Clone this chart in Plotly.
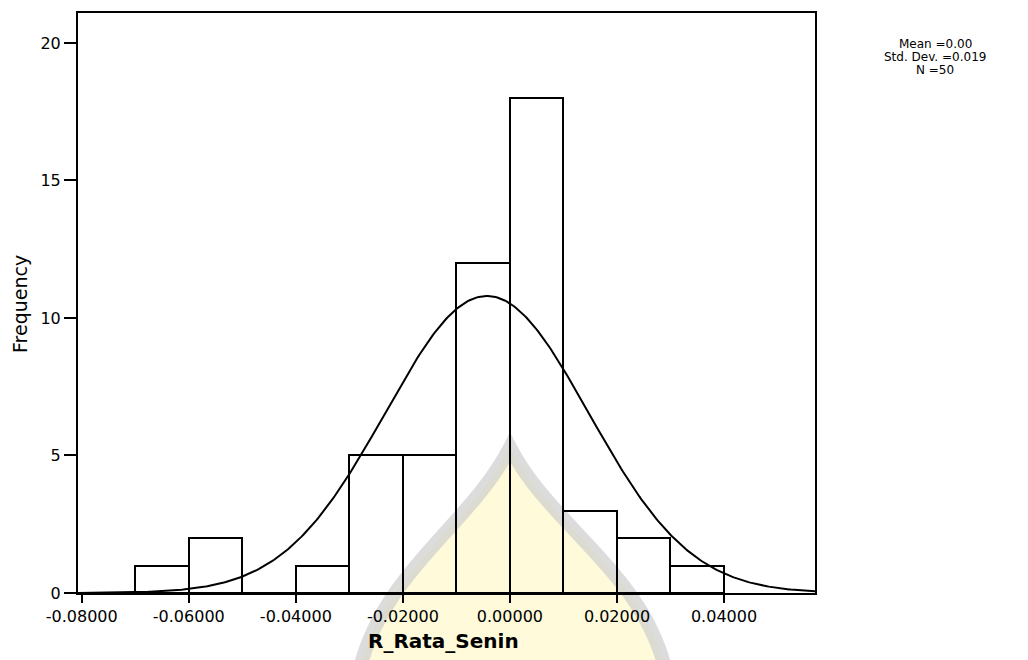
import numpy as np
import plotly.graph_objects as go

# ---- data ----
bin_start = [-0.07, -0.06, -0.05, -0.04, -0.03, -0.02, -0.01, 0.00, 0.01, 0.02, 0.03]
counts = [1, 2, 0, 1, 5, 5, 12, 18, 3, 2, 1]
bin_width = 0.01

x_tick_vals = [-0.08, -0.06, -0.04, -0.02, 0.00, 0.02, 0.04]
x_tick_text = ["-0.08000", "-0.06000", "-0.04000", "-0.02000", "0.00000", "0.02000", "0.04000"]
y_tick_vals = [0, 5, 10, 15, 20]

curve_mean = -0.0043
curve_sd = 0.019
curve_peak = 10.8

stats_lines = ["Mean =0.00", "Std. Dev. =0.019", "N =50"]

# ---- layout geometry (target screen pixels; page body has an 8px offset) ----
OFF = 8
W, H = 1028, 660
L, R, T, B = 78 - OFF, 815 - OFF, 11 - OFF, 593 - OFF
x_range = [-0.0807, 0.0570]
y_range = [0, 21.09]

def px(xp):
    return (xp - OFF - L) / (R - L)

def py(yp):
    return (B - (yp - OFF)) / (B - T)

FONT = "DejaVu Sans, Arial, sans-serif"

fig = go.Figure()

centers = [s + bin_width / 2 for s in bin_start]
fig.add_trace(go.Bar(
    x=centers, y=counts, width=[bin_width] * len(counts),
    marker=dict(color="rgba(0,0,0,0)", line=dict(color="black", width=2)),
    showlegend=False, hoverinfo="x+y",
))

xc = np.linspace(x_range[0], x_range[1], 400)
yc = curve_peak * np.exp(-0.5 * ((xc - curve_mean) / curve_sd) ** 2)
fig.add_trace(go.Scatter(
    x=xc, y=yc, mode="lines", line=dict(color="black", width=2),
    showlegend=False, hoverinfo="skip",
))

# faint watermark (decoration)
def pt(xp, yp):
    return f"{px(xp):.4f},{py(yp):.4f}"

dome = (f"M {pt(360, 668)} C {pt(385, 570)} {pt(470, 525)} {pt(510, 447)} "
        f"C {pt(550, 525)} {pt(640, 570)} {pt(665, 668)} Z")
fig.add_shape(type="path", path=dome, xref="paper", yref="paper", layer="below",
              fillcolor="rgba(255,250,205,0.75)",
              line=dict(color="rgba(205,205,205,0.7)", width=14))

annotations = [
    dict(text="<b>R_Rata_Senin</b>", x=px(443), y=py(641), xref="paper", yref="paper",
         showarrow=False, font=dict(family=FONT, size=20, color="black"),
         xanchor="center", yanchor="middle"),
    dict(text="Frequency", x=px(20), y=py(303), xref="paper", yref="paper",
         showarrow=False, textangle=-90, font=dict(family=FONT, size=19, color="black"),
         xanchor="center", yanchor="middle"),
]
for i, line in enumerate(stats_lines):
    annotations.append(dict(text=line, x=px(935), y=py(42 + 13 * i), xref="paper", yref="paper",
                            showarrow=False, font=dict(family=FONT, size=12, color="black"),
                            xanchor="center", yanchor="middle"))

fig.update_layout(
    width=W, height=H,
    margin=dict(l=L, r=W - R, t=T, b=H - B, pad=0),
    paper_bgcolor="white", plot_bgcolor="rgba(0,0,0,0)",
    bargap=0,
    annotations=annotations,
    xaxis=dict(range=x_range, tickvals=x_tick_vals, ticktext=x_tick_text,
               ticks="outside", ticklen=8, tickwidth=2, tickcolor="black",
               showline=True, mirror=True, linecolor="black", linewidth=2,
               showgrid=False, zeroline=False,
               tickfont=dict(family=FONT, size=16, color="black")),
    yaxis=dict(range=y_range, tickvals=y_tick_vals,
               ticks="outside", ticklen=12, tickwidth=2, tickcolor="black",
               showline=True, mirror=True, linecolor="black", linewidth=2,
               showgrid=False, zeroline=False,
               tickfont=dict(family=FONT, size=16, color="black")),
)

fig.write_html("out.html")
